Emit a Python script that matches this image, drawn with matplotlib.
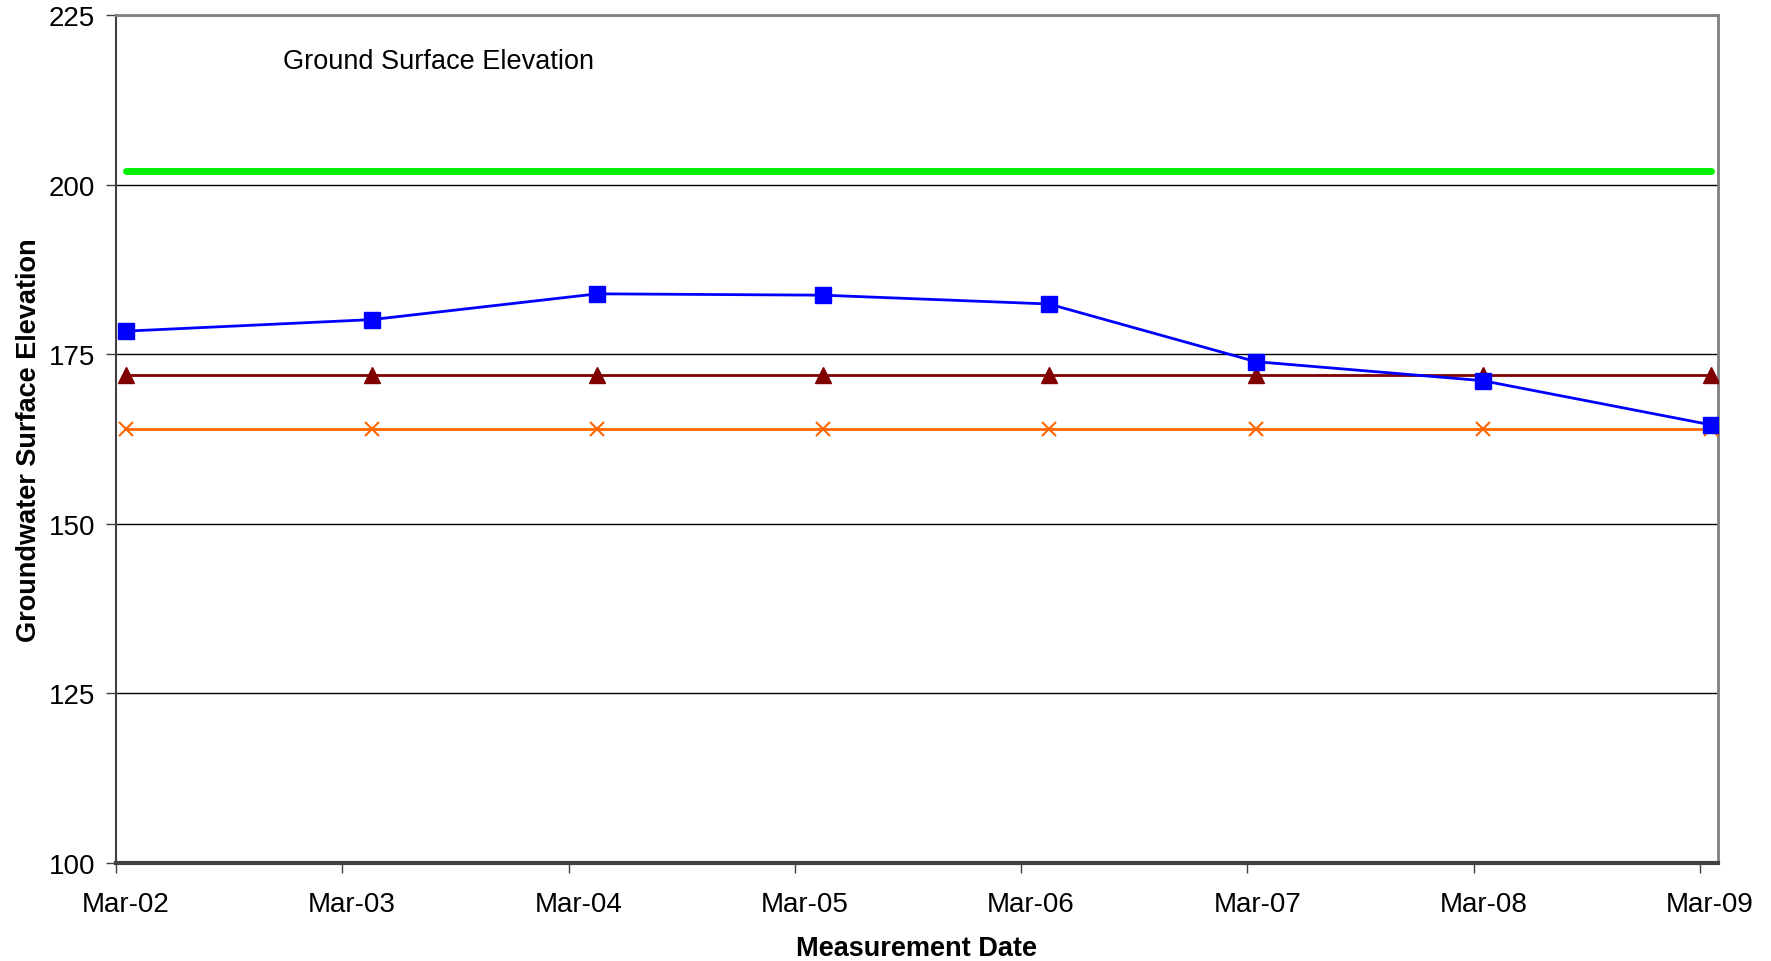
import datetime as dt
import matplotlib
matplotlib.use('Agg')
import matplotlib.pyplot as plt
import matplotlib.dates as mdates
import matplotlib.transforms as mtransforms

plt.rcParams['font.family'] = ['Liberation Sans', 'DejaVu Sans']

# measurement dates and groundwater levels
dates = [dt.date(2002, 3, 17), dt.date(2003, 4, 18), dt.date(2004, 4, 16),
         dt.date(2005, 4, 15), dt.date(2006, 4, 15), dt.date(2007, 3, 15),
         dt.date(2008, 3, 15), dt.date(2009, 3, 18)]
water_level = [178.4, 180.1, 183.9, 183.7, 182.4, 173.9, 171.1, 164.6]
ground_surface = [202.0] * len(dates)
level_a = [172.0] * len(dates)
level_b = [164.0] * len(dates)

year_ticks = [dt.date(y, 3, 1) for y in range(2002, 2010)]
yticks = [100, 125, 150, 175, 200, 225]

fig = plt.figure(figsize=(17.71, 9.62), dpi=100)
ax = fig.add_axes([116 / 1771, 1 - 864 / 962, (1718 - 116) / 1771, (864 - 16) / 962])

ax.plot(dates, ground_surface, color='#00ee00', lw=5, solid_capstyle='round', zorder=3)
ax.plot(dates, level_a, color='#800000', lw=2, marker='^', ms=11, zorder=3)
ax.plot(dates, level_b, color='#ff6600', lw=2, marker='x', ms=10, mew=1.5, zorder=3)
ax.plot(dates, water_level, color='#0000ff', lw=2, marker='s', ms=11, zorder=4)

ax.set_ylim(100, 225)
ax.set_yticks(yticks)
ax.set_xlim(dt.date(2002, 3, 1), dt.date(2009, 3, 30))
ax.set_xticks(year_ticks)
ax.xaxis.set_major_formatter(mdates.DateFormatter('%b-%y'))

ax.grid(axis='y', color='black', lw=1)
ax.set_axisbelow(True)
ax.tick_params(axis='both', labelsize=20, length=7, width=1, color='#404040', direction='out')
ax.tick_params(axis='x', pad=13)
ax.tick_params(axis='y', pad=8)

# shift date labels to the middle of the month
offset = mtransforms.ScaledTranslation(10 / 100, 0, fig.dpi_scale_trans)
for lbl in ax.get_xticklabels():
    lbl.set_transform(lbl.get_transform() + offset)

for side in ['top', 'right']:
    ax.spines[side].set_color('#808080')
    ax.spines[side].set_linewidth(2)
ax.spines['left'].set_color('#404040')
ax.spines['left'].set_linewidth(1.5)
ax.spines['bottom'].set_color('#404040')
ax.spines['bottom'].set_linewidth(3)

ax.set_xlabel('Measurement Date', fontsize=19.5, fontweight='bold', labelpad=13)
ax.set_ylabel('Groundwater Surface Elevation', fontsize=19.5, fontweight='bold', labelpad=5)

ax.text(dt.date(2002, 11, 25), 218.2, 'Ground Surface Elevation', fontsize=19.5, va='center', ha='left')

fig.savefig('out.png', dpi=100)
